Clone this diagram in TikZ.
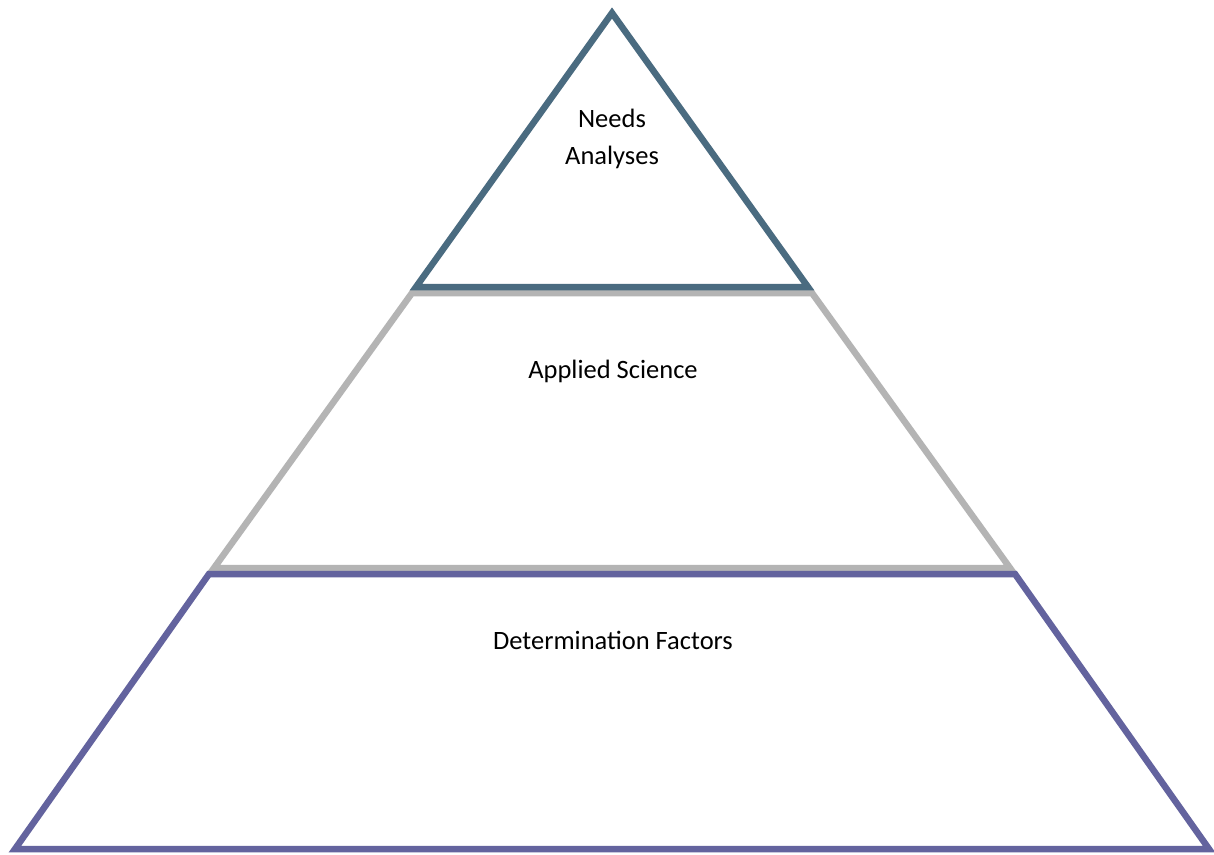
\documentclass[tikz,border=0pt]{standalone}
\usepackage{fontspec}
\setmainfont{Carlito}
\definecolor{topblue}{RGB}{74,107,128}
\definecolor{midgray}{RGB}{180,180,180}
\definecolor{botpurple}{RGB}{99,99,158}
\begin{document}
\begin{tikzpicture}[x=1pt,y=-1pt,
  tier/.style={line width=6.5pt,line join=miter,miter limit=20},
  lbl/.style={font=\fontsize{26.5}{37}\selectfont,text=black,align=center,inner sep=0pt}]
\useasboundingbox (0,0) rectangle (1214,854);
\fill[white] (0,0) rectangle (1214,854);
% middle tier (gray)
\draw[tier,draw=midgray] (412,293) -- (812,293) -- (1010,568) -- (214,568) -- cycle;
% bottom tier (purple)
\draw[tier,draw=botpurple] (209,574) -- (1015,574) -- (1209,849) -- (15,849) -- cycle;
% top tier (blue)
\draw[tier,draw=topblue] (612,13) -- (808,287) -- (416,287) -- cycle;
\node[lbl] (needs) at (612,139) {Needs\\Analyses};
\node[lbl] (applied) at (613,371) {Applied Science};
\node[lbl] (determ) at (613,640) {Determination Factors};
\end{tikzpicture}
\end{document}
